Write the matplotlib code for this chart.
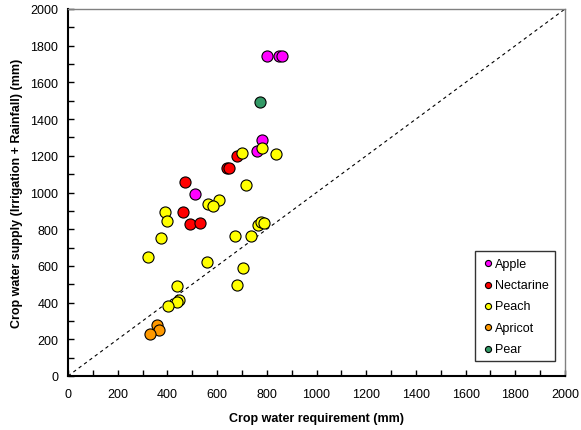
import matplotlib
matplotlib.use("Agg")
import matplotlib.pyplot as plt
from matplotlib.ticker import MultipleLocator

plt.rcParams['font.family'] = ['Liberation Sans', 'DejaVu Sans']

apple_x = [801, 849, 861, 781, 762, 512]
apple_y = [1742, 1742, 1742, 1288, 1228, 993]

nectarine_x = [679, 639, 649, 471, 464, 491, 530]
nectarine_y = [1201, 1131, 1131, 1059, 895, 830, 834]

peach_x = [700, 781, 837, 718, 607, 563, 583, 389, 398, 376, 322, 559,
           671, 738, 763, 775, 790, 704, 679, 440, 445, 437, 402]
peach_y = [1215, 1243, 1208, 1039, 960, 937, 926, 895, 843, 752, 649, 621,
           763, 763, 825, 838, 833, 587, 498, 492, 416, 402, 383]

apricot_x = [357, 365, 330]
apricot_y = [280, 252, 227]

pear_x = [773]
pear_y = [1491]

series = [
    ("Apple", apple_x, apple_y, "#FF00FF"),
    ("Nectarine", nectarine_x, nectarine_y, "#FF0000"),
    ("Peach", peach_x, peach_y, "#FFFF00"),
    ("Apricot", apricot_x, apricot_y, "#FF9900"),
    ("Pear", pear_x, pear_y, "#339966"),
]

fig = plt.figure(figsize=(5.81, 4.31), dpi=100)
ax = fig.add_axes([68/581, 1 - 377/431, (565-68)/581, (377-10)/431])

ax.plot([0, 2000], [0, 2000], linestyle=(0, (3, 3)), color="black", linewidth=0.8, zorder=1)

for name, xs, ys, col in series:
    ax.scatter(xs, ys, s=64, c=col, edgecolors="black", linewidths=0.8, label=name, zorder=3)

ax.set_xlim(0, 2000)
ax.set_ylim(0, 2000)
ax.xaxis.set_major_locator(MultipleLocator(200))
ax.xaxis.set_minor_locator(MultipleLocator(100))
ax.yaxis.set_major_locator(MultipleLocator(200))
ax.yaxis.set_minor_locator(MultipleLocator(100))
ax.tick_params(which="both", direction="in", length=4, width=1, labelsize=9)
ax.tick_params(axis="x", pad=9)
ax.tick_params(axis="y", pad=7)
ax.tick_params(which="both", top=False, right=False)

for s in ["left", "bottom"]:
    ax.spines[s].set_color("black")
    ax.spines[s].set_linewidth(1.5)
for s in ["top", "right"]:
    ax.spines[s].set_color("#808080")
    ax.spines[s].set_linewidth(1.0)

ax.set_xlabel("Crop water requirement (mm)", fontsize=9, fontweight="bold", labelpad=8)
ax.set_ylabel("Crop water supply (Irrigation + Rainfall) (mm)", fontsize=9, fontweight="bold", labelpad=5)

leg = ax.legend(loc="lower right", bbox_to_anchor=(0.98, 0.04), fontsize=9, frameon=True,
                fancybox=False, edgecolor="black", markerscale=0.55, handletextpad=0.0,
                labelspacing=0.75, borderpad=0.5, borderaxespad=0.0, handlelength=1.1)
leg.get_frame().set_linewidth(1.0)

fig.savefig("out.png", dpi=100)
